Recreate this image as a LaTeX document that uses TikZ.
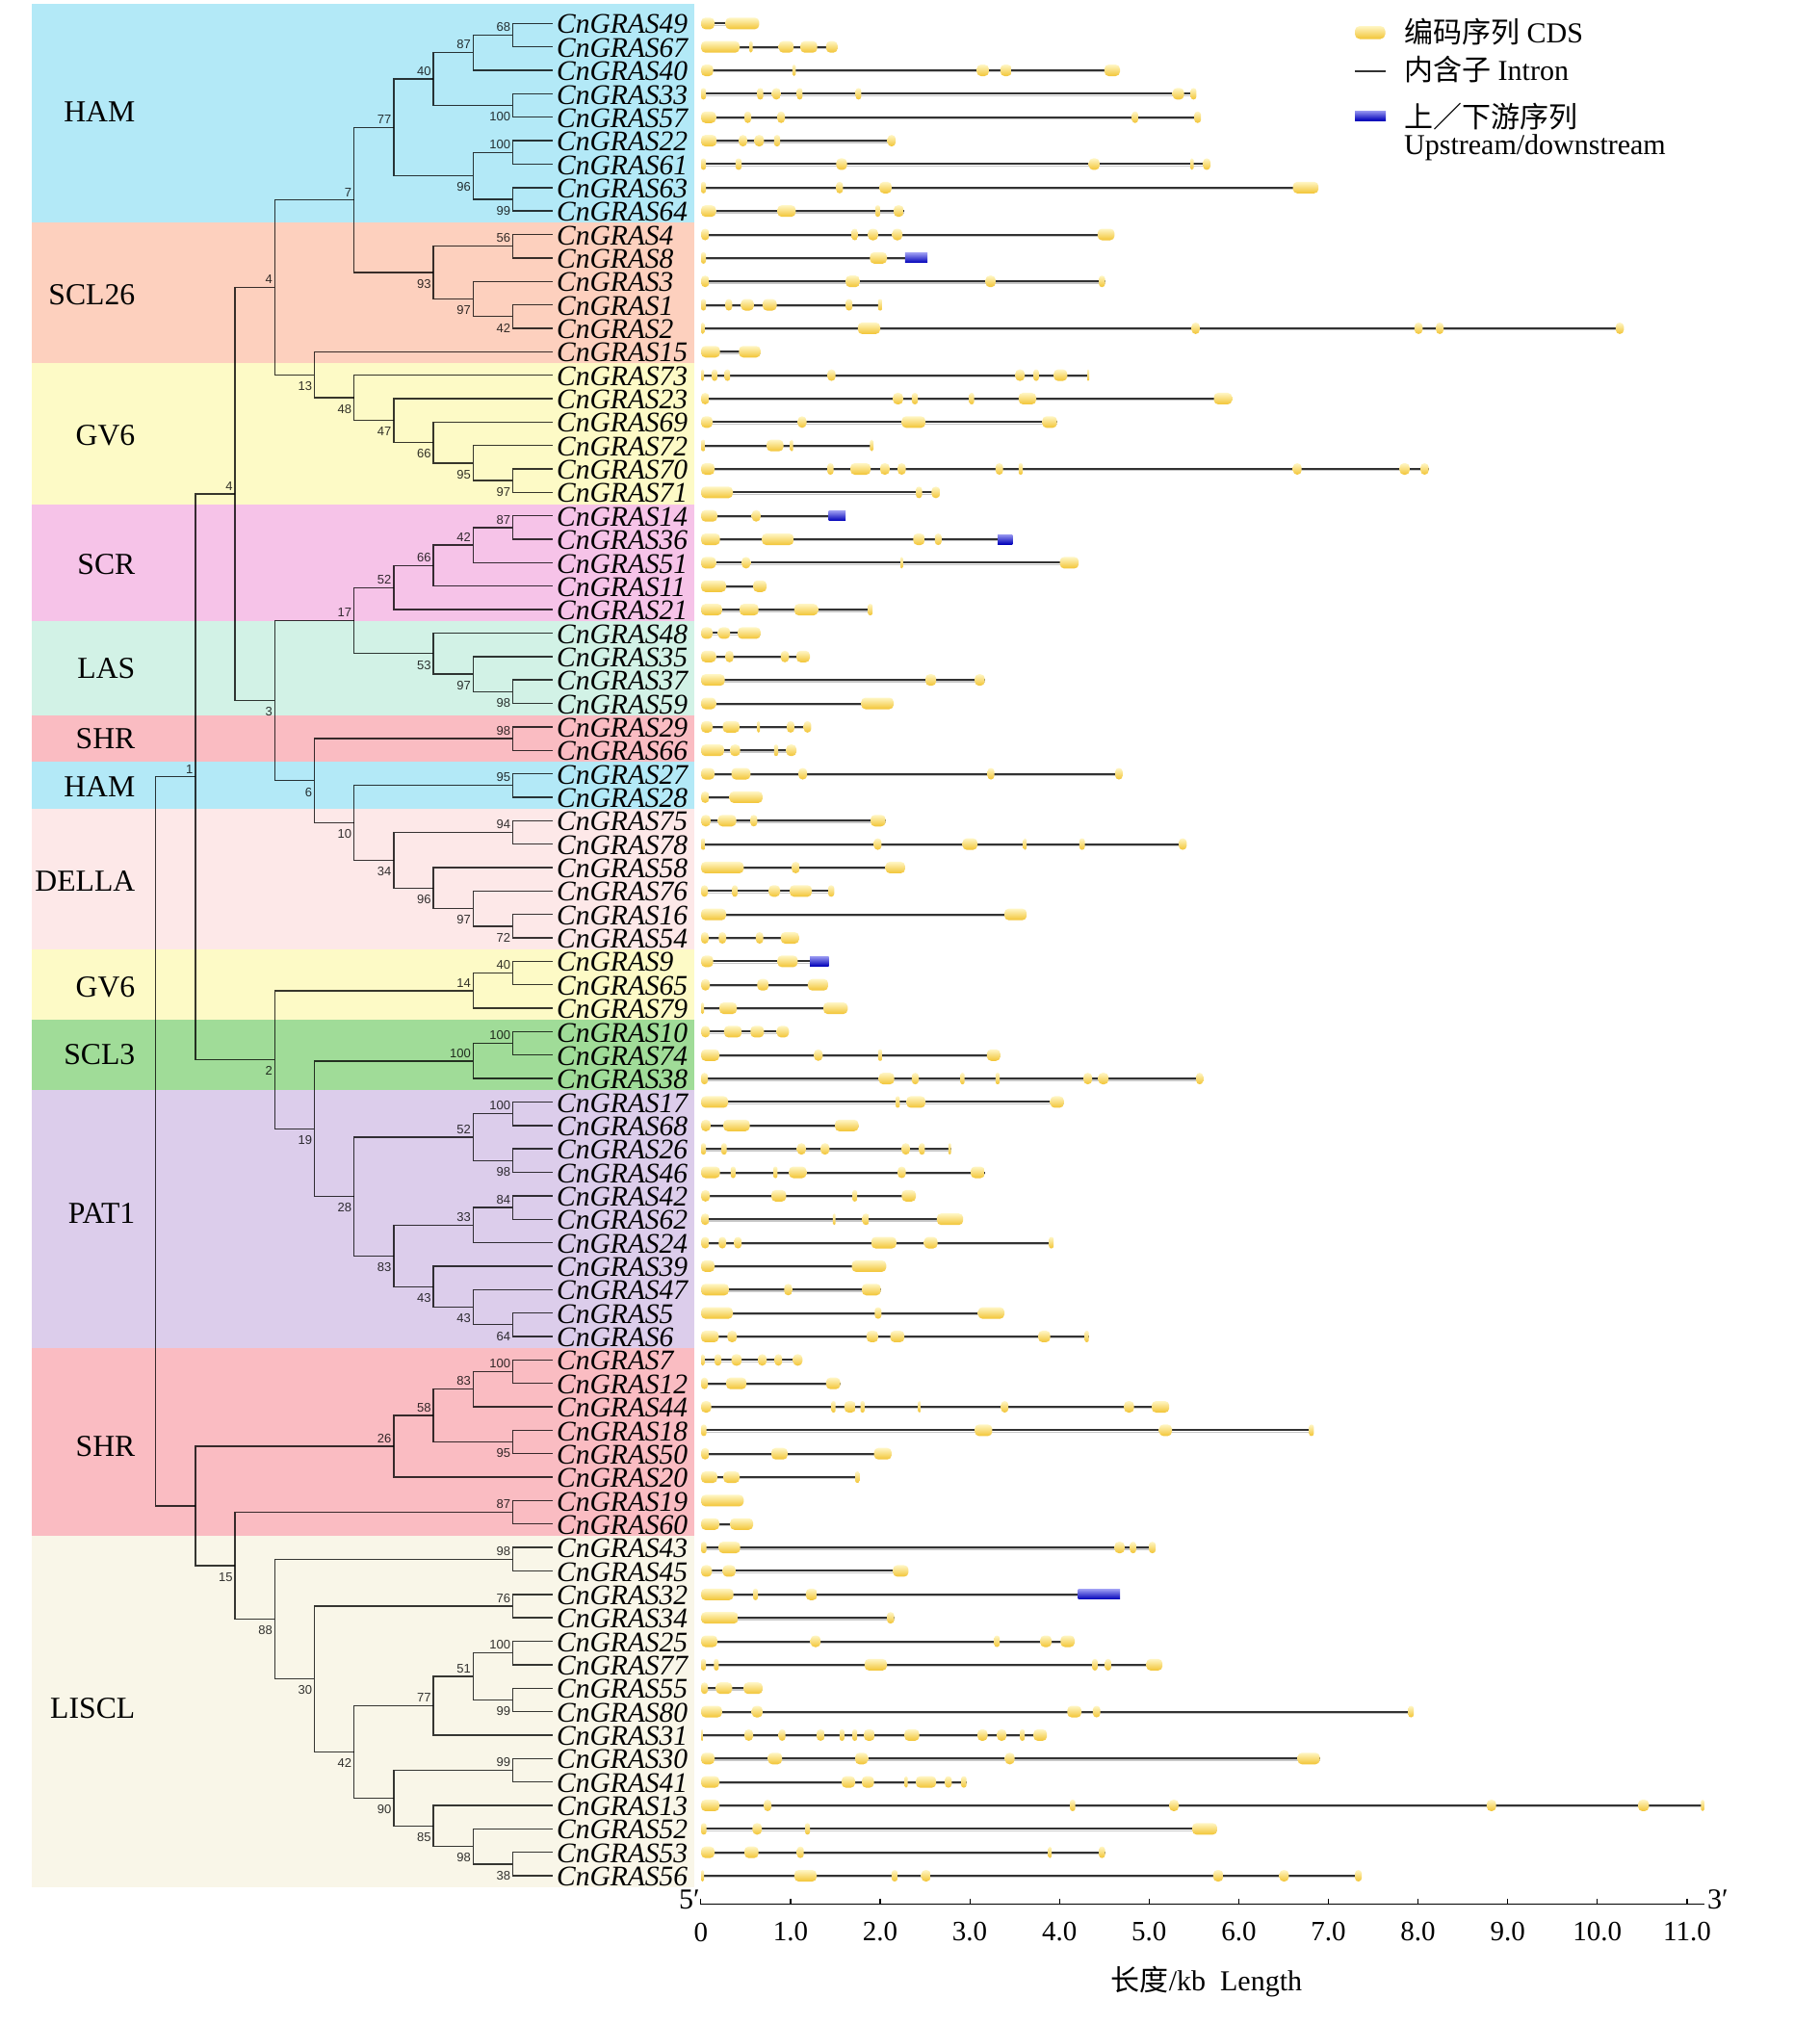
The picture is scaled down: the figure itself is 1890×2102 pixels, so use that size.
\documentclass[tikz,border=0pt]{standalone}
\usepackage{fontspec}
\setmainfont{Liberation Serif}
\newfontfamily\cjk{Noto Sans CJK SC}
\newfontfamily\bsfont{Liberation Sans}
\usetikzlibrary{calc}
\definecolor{cHAM}{RGB}{179,233,247}
\definecolor{cSCLa}{RGB}{253,208,190}
\definecolor{cGV}{RGB}{253,250,198}
\definecolor{cSCR}{RGB}{246,195,232}
\definecolor{cLAS}{RGB}{210,242,230}
\definecolor{cSHR}{RGB}{250,188,194}
\definecolor{cDELLA}{RGB}{253,232,232}
\definecolor{cSCLb}{RGB}{160,220,152}
\definecolor{cPAT}{RGB}{220,205,235}
\definecolor{cLISCL}{RGB}{249,246,232}
\definecolor{cdsT}{RGB}{255,246,196}
\definecolor{cdsB}{RGB}{242,196,52}
\definecolor{udT}{RGB}{150,150,240}
\definecolor{udB}{RGB}{0,0,185}
\definecolor{intr}{RGB}{50,50,50}
\tikzset{
  br/.style={draw=black, draw opacity=0.78, line width=1.4pt},
  bsl/.style={font=\bsfont\fontsize{13}{13}\selectfont, inner sep=0pt, text=black, text opacity=0.8},
  glabel/.style={font=\fontsize{29.5}{30}\selectfont\itshape, inner sep=0pt, anchor=west},
  grp/.style={font=\fontsize{31.7}{32}\selectfont, inner sep=0pt, anchor=east},
  intron/.style={draw=intr, line width=2pt},
  ishadow/.style={draw=black!22, line width=1.2pt},
  cds/.style={top color=cdsT, bottom color=cdsB},
  udb/.style={top color=udT, bottom color=udB},
  lg/.style={font=\fontsize{30}{30}\selectfont, inner sep=0pt, anchor=west},
  tk/.style={font=\fontsize{29}{29}\selectfont, inner sep=0pt},
  axl/.style={draw=black, line width=1.6pt}
}
\newcommand{\tcl}[4]{%
  \draw[br] (#2) -- (#2 -| #4) -- (#3 -| #4) -- (#3);
  \coordinate (#1) at ($(#2 -| #4)!0.5!(#3 -| #4)$);}
\newcommand{\lbu}[2]{\node[bsl, anchor=south east] (b#1) at ([shift={(-2.2,-3.5)}]#1) {#2};}
\newcommand{\lbd}[2]{\node[bsl, anchor=north east] (b#1) at ([shift={(-2.2,7)}]#1) {#2};}
\newcommand{\gstr}[3]{%
  \pgfmathsetmacro\gy{24.35*#1}%
  \draw[ishadow] (728,\gy+1.8) -- (#2,\gy+1.8);%
  \draw[intron] (728,\gy) -- (#2,\gy);%
  \foreach \a/\b in {#3}{%
    \pgfmathsetmacro\rr{min(4.5,(\b-\a)/2)}%
    \shade[cds, rounded corners=\rr pt] (\a,\gy-6) rectangle (\b,\gy+6);%
  }}
\newcommand{\udbox}[3]{%
  \pgfmathsetmacro\gy{24.35*#1}%
  \shade[udb] (#2,\gy-5) rectangle (#3,\gy+5);}
\begin{document}
\begin{tikzpicture}[x=1pt,y=-1pt]
\fill[white] (0,0) rectangle (1890,2102);
\useasboundingbox (0,0) rectangle (1890,2102);
% ---------- bands
\fill[cHAM]   (33,4)      rectangle (721,231.3);
\fill[cSCLa]  (33,231.3)  rectangle (721,377.4);
\fill[cGV]    (33,377.4)  rectangle (721,523.5);
\fill[cSCR]   (33,523.5)  rectangle (721,645.3);
\fill[cLAS]   (33,645.3)  rectangle (721,742.7);
\fill[cSHR]   (33,742.7)  rectangle (721,791.4);
\fill[cHAM]   (33,791.4)  rectangle (721,840.1);
\fill[cDELLA] (33,840.1)  rectangle (721,986.2);
\fill[cGV]    (33,986.2)  rectangle (721,1059.2);
\fill[cSCLb]  (33,1059.2) rectangle (721,1132.3);
\fill[cPAT]   (33,1132.3) rectangle (721,1400.1);
\fill[cSHR]   (33,1400.1) rectangle (721,1594.9);
\fill[cLISCL] (33,1594.9) rectangle (721,1960.2);
% ---------- group labels
\node[grp] (g1) at (140.5,115.7) {HAM};
\node[grp] (g2) at (140.5,306) {SCL26};
\node[grp] (g3) at (140.5,452.7) {GV6};
\node[grp] (g4) at (140.5,586) {SCR};
\node[grp] (g5) at (140.5,694) {LAS};
\node[grp] (g6) at (140.5,767.3) {SHR};
\node[grp] (g7) at (140.5,816.7) {HAM};
\node[grp] (g8) at (140.5,915) {DELLA};
\node[grp] (g9) at (140.5,1025) {GV6};
\node[grp] (g10) at (140.5,1095) {SCL3};
\node[grp] (g11) at (140.5,1260) {PAT1};
\node[grp] (g12) at (140.5,1501.7) {SHR};
\node[grp] (g13) at (140.5,1774) {LISCL};
% ---------- leaves
\foreach \d in {1,...,10} \coordinate (X\d) at ({573.6-41.2*\d},0);
\foreach \g [count=\i] in {49,67,40,33,57,22,61,63,64,4,8,3,1,2,15,73,23,69,72,70,71,14,36,51,11,21,48,35,37,59,29,66,27,28,75,78,58,76,16,54,9,65,79,10,74,38,17,68,26,46,42,62,24,39,47,5,6,7,12,44,18,50,20,19,60,43,45,32,34,25,77,55,80,31,30,41,13,52,53,56}{
  \coordinate (L\g) at (573.6,{24.35*\i});
  \node[glabel] (T\g) at (578,{24.35*\i+1}) {CnGRAS\g};
}
% ---------- tree
\tcl{A68}{L49}{L67}{X1} \lbu{A68}{68}
\tcl{A87}{A68}{L40}{X2} \lbu{A87}{87}
\tcl{A100a}{L33}{L57}{X1} \lbd{A100a}{100}
\tcl{A40}{A87}{A100a}{X3} \lbu{A40}{40}
\tcl{A100b}{L22}{L61}{X1} \lbu{A100b}{100}
\tcl{A99}{L63}{L64}{X1} \lbd{A99}{99}
\tcl{A96}{A100b}{A99}{X2} \lbd{A96}{96}
\tcl{A77}{A40}{A96}{X4} \lbu{A77}{77}
\tcl{A56}{L4}{L8}{X1} \lbu{A56}{56}
\tcl{A42}{L1}{L2}{X1} \lbd{A42}{42}
\tcl{A97}{L3}{A42}{X2} \lbd{A97}{97}
\tcl{A93}{A56}{A97}{X3} \lbd{A93}{93}
\tcl{A7}{A77}{A93}{X5} \lbu{A7}{7}
\tcl{A97b}{L70}{L71}{X1} \lbd{A97b}{97}
\tcl{A95}{L72}{A97b}{X2} \lbd{A95}{95}
\tcl{A66}{L69}{A95}{X3} \lbd{A66}{66}
\tcl{A47}{L23}{A66}{X4} \lbd{A47}{47}
\tcl{A48}{L73}{A47}{X5} \lbd{A48}{48}
\tcl{A13}{L15}{A48}{X6} \lbd{A13}{13}
\tcl{A4a}{A7}{A13}{X7} \lbu{A4a}{4}
\tcl{A87s}{L14}{L36}{X1} \lbu{A87s}{87}
\tcl{A42s}{A87s}{L51}{X2} \lbu{A42s}{42}
\tcl{A66s}{A42s}{L11}{X3} \lbu{A66s}{66}
\tcl{A52}{A66s}{L21}{X4} \lbu{A52}{52}
\tcl{A98}{L37}{L59}{X1} \lbd{A98}{98}
\tcl{A97c}{L35}{A98}{X2} \lbd{A97c}{97}
\tcl{A53}{L48}{A97c}{X3} \lbd{A53}{53}
\tcl{A17}{A52}{A53}{X5} \lbu{A17}{17}
\tcl{A98s}{L29}{L66}{X1} \lbu{A98s}{98}
\tcl{A95s}{L27}{L28}{X1} \lbu{A95s}{95}
\tcl{A94}{L75}{L78}{X1} \lbu{A94}{94}
\tcl{A72}{L16}{L54}{X1} \lbd{A72}{72}
\tcl{A97d}{L76}{A72}{X2} \lbd{A97d}{97}
\tcl{A96s}{L58}{A97d}{X3} \lbd{A96s}{96}
\tcl{A34}{A94}{A96s}{X4} \lbd{A34}{34}
\tcl{A10}{A95s}{A34}{X5} \lbd{A10}{10}
\tcl{A6}{A98s}{A10}{X6} \lbd{A6}{6}
\tcl{A3}{A17}{A6}{X7} \lbd{A3}{3}
\tcl{A4b}{A4a}{A3}{X8} \lbu{A4b}{4}
\tcl{A40s}{L9}{L65}{X1} \lbu{A40s}{40}
\tcl{A14}{A40s}{L79}{X2} \lbu{A14}{14}
\tcl{A100u}{L10}{L74}{X1} \lbu{A100u}{100}
\tcl{A100t}{A100u}{L38}{X2} \lbu{A100t}{100}
\tcl{A100v}{L17}{L68}{X1} \lbu{A100v}{100}
\tcl{A98p}{L26}{L46}{X1} \lbd{A98p}{98}
\tcl{A52p}{A100v}{A98p}{X2} \lbu{A52p}{52}
\tcl{A84}{L42}{L62}{X1} \lbu{A84}{84}
\tcl{A33}{A84}{L24}{X2} \lbu{A33}{33}
\tcl{A64}{L5}{L6}{X1} \lbd{A64}{64}
\tcl{A43b}{L47}{A64}{X2} \lbd{A43b}{43}
\tcl{A43a}{L39}{A43b}{X3} \lbd{A43a}{43}
\tcl{A83}{A33}{A43a}{X4} \lbd{A83}{83}
\tcl{A28}{A52p}{A83}{X5} \lbd{A28}{28}
\tcl{A19}{A100t}{A28}{X6} \lbd{A19}{19}
\tcl{A2}{A14}{A19}{X7} \lbd{A2}{2}
\tcl{N1}{A4b}{A2}{X9} \lbu{N1}{1}
\tcl{A100w}{L7}{L12}{X1} \lbu{A100w}{100}
\tcl{A83s}{A100w}{L44}{X2} \lbu{A83s}{83}
\tcl{A95t}{L18}{L50}{X1} \lbd{A95t}{95}
\tcl{A58}{A83s}{A95t}{X3} \lbu{A58}{58}
\tcl{A26}{A58}{L20}{X4} \lbu{A26}{26}
\tcl{A87t}{L19}{L60}{X1} \lbu{A87t}{87}
\tcl{A98t}{L43}{L45}{X1} \lbu{A98t}{98}
\tcl{A76}{L32}{L34}{X1} \lbu{A76}{76}
\tcl{A100x}{L25}{L77}{X1} \lbu{A100x}{100}
\tcl{A99t}{L55}{L80}{X1} \lbd{A99t}{99}
\tcl{A51}{A100x}{A99t}{X2} \lbu{A51}{51}
\tcl{A77t}{A51}{L31}{X3} \lbu{A77t}{77}
\tcl{A99u}{L30}{L41}{X1} \lbu{A99u}{99}
\tcl{A38}{L53}{L56}{X1} \lbd{A38}{38}
\tcl{A98u}{L52}{A38}{X2} \lbd{A98u}{98}
\tcl{A85}{L13}{A98u}{X3} \lbd{A85}{85}
\tcl{A90}{A99u}{A85}{X4} \lbd{A90}{90}
\tcl{A42t}{A77t}{A90}{X5} \lbd{A42t}{42}
\tcl{A30}{A76}{A42t}{X6} \lbd{A30}{30}
\tcl{A88}{A98t}{A30}{X7} \lbd{A88}{88}
\tcl{A15}{A87t}{A88}{X8} \lbd{A15}{15}
\tcl{Nb}{A26}{A15}{X9}
\tcl{R}{N1}{Nb}{X10}
% ---------- gene structures
\gstr{1}{788.4}{728/742,753.3/788.4}
\gstr{2}{869.8}{728/768,778/781.5,808.7/824.2,831.2/848.7,857.8/869.8}
\gstr{3}{1163}{728/740.7,822.8/826.3,1014.3/1026.9,1038.8/1050.7,1146.9/1163}
\gstr{4}{1242.3}{728/733,786.3/792.6,801.7/810.8,827.7/833.3,888.7/894.3,1217.7/1229.6,1236.6/1242.3}
\gstr{5}{1247.2}{728/743.5,773/780,807.3/815,1175.6/1181.9,1240.2/1247.2}
\gstr{6}{930.1}{728/744.2,767.3/775.8,783.5/793.3,803.8/810.1,921.7/930.1}
\gstr{7}{1257}{728/733,763.8/770.2,868.4/879.6,1130.7/1141.9,1236/1239.5,1249.3/1257}
\gstr{8}{1369.2}{728/733,868.4/875.4,913.3/925.9,1342.6/1369.2}
\gstr{9}{938.5}{728/743.5,807.3/826.3,909/914,928/938.5}
\gstr{10}{1157.4}{728/736.5,884.5/890.8,901.3/911.9,926.6/937.1,1139.8/1157.4}
\gstr{11}{939.9}{728/733,903.4/921} \udbox{11}{939.9}{963.1}
\gstr{12}{1147.5}{728/736.5,878.2/892.9,1023.4/1033.9,1141.2/1147.5}
\gstr{13}{916.1}{728/733,753.3/760.3,769.4/782.8,791.9/806.6,878.2/885.2,911.9/916.1}
\gstr{14}{1686.3}{728/731.6,890.8/914,1237.4/1245.8,1468.9/1477.3,1491.3/1499,1677.9/1686.3}
\gstr{15}{789.8}{728/747.7,767.3/789.8}
\gstr{16}{1131}{728/731,739.3/744.9,752.6/758.2,859.2/867.7,1054.3/1064.1,1073.2/1078.8,1094.2/1108.3,1129/1131}
\gstr{17}{1279.4}{728/736.5,927.3/937.8,946.9/953.2,1006.6/1011.5,1057.8/1076,1260.5/1279.4}
\gstr{18}{1097.7}{728/740,828.4/837.5,936.4/961,1082.3/1097.7}
\gstr{19}{907}{728/732.3,796.1/813.6,820.7/823.5,903.4/907}
\gstr{20}{1483.6}{728/742,859.2/865.6,883.1/904.1,914/923.8,932.2/940.6,1033.9/1041.6,1057.8/1062,1342.6/1351.7,1453.4/1463.9,1475.2/1483.6}
\gstr{21}{976.4}{728/761,951.1/957.5,967.3/976.4}
\gstr{22}{860.6}{728/744.9,780.7/789.8} \udbox{22}{860.6}{878.2}
\gstr{23}{1036}{728/747.7,791.2/824.2,948.3/960.3,970.8/977.8} \udbox{23}{1036}{1051.4}
\gstr{24}{1120.2}{728/743.5,770.2/779.3,935/937.5,1100.6/1120.2}
\gstr{25}{796.1}{728/754,782.1/796.1}
\gstr{26}{906.2}{728/749.8,768/787.7,824.9/849.4,901.3/906.2}
\gstr{27}{789.8}{728/740,745.6/758.2,766/789.8}
\gstr{28}{841}{728/743.5,753.3/761.7,810.8/819.3,827/841}
\gstr{29}{1022.7}{728/752.6,961/972.2,1012.2/1022.7}
\gstr{30}{928}{728/743.5,894.3/928}
\gstr{31}{842.4}{728/740,750.5/768,786.3/789.1,817.2/824.9,834.7/842.4}
\gstr{32}{827}{728/751.9,758.2/768.7,803.8/808,816.4/827}
\gstr{33}{1165.8}{728/742,759.6/779.3,829.1/838.2,1025.5/1032.5,1158.1/1165.8}
\gstr{34}{791.9}{728/736.5,757.5/791.9}
\gstr{35}{919.6}{728/737.9,745.6/764.5,779.3/786.3,904.1/919.6}
\gstr{36}{1232.4}{728/732.3,907.6/915.4,999.5/1015,1062.7/1066.2,1120.9/1126.5,1224/1232.4}
\gstr{37}{939.9}{728/772.3,822.1/830.5,919.6/939.9}
\gstr{38}{866.3}{728/735.1,760.3/765.9,798.2/810.1,820/843.1,860/866.3}
\gstr{39}{1066.2}{728/754,1043/1066.2}
\gstr{40}{829.8}{728/735.8,746.3/754,784.9/792.6,810.8/829.8}
\gstr{41}{841}{728/740.7,807.3/828.4} \udbox{41}{841}{860.6}
\gstr{42}{860}{728/737.2,786.3/798.2,838.9/860}
\gstr{43}{880.3}{728/731,747/765.2,855/880.3}
\gstr{44}{819.3}{728/737.2,751.9/770.2,779.3/793.3,806.6/819.3}
\gstr{45}{1038.8}{728/747,845.2/854.3,911.9/916.1,1024.8/1038.8}
\gstr{46}{1249.3}{728/735.1,912.6/928.7,946.9/954,997.4/1001.6,1033.9/1038.1,1125.1/1134.2,1140.5/1151.1,1242.3/1249.3}
\gstr{47}{1104.8}{728/756.1,930.1/934.3,941.3/961,1090.7/1104.8}
\gstr{48}{891.5}{728/737.9,751.2/778.6,867/891.5}
\gstr{49}{987.6}{728/733,749.1/754.7,827.7/836.8,852.2/861.3,936.4/944.8,954.6/960.3,984.8/987.6}
\gstr{50}{1022.7}{728/747.7,758.9/763.8,803.1/807.3,819.3/837.5,932.2/940.6,1008/1022.7}
\gstr{51}{951.1}{728/737.2,801/816.4,885.2/890.1,936.4/951.1}
\gstr{52}{1000.2}{728/736.5,864.9/867.7,895.7/902.7,972.9/1000.2}
\gstr{53}{1094.2}{728/736.5,746.3/754,762.4/770.2,904.8/930.8,959.6/973.6,1089.3/1094.2}
\gstr{54}{920.3}{728/742,884.5/920.3}
\gstr{55}{914.7}{728/756.8,814.3/822.8,895/914.7}
\gstr{56}{1043}{728/761,908.3/915.4,1015.7/1043}
\gstr{57}{1130.7}{728/746.3,755.4/765.2,899.9/911.9,924.5/939.2,1078.1/1090.7,1126.5/1130.7}
\gstr{58}{833.3}{728/731.6,742/749.1,759.6/770.2,787/796.1,804.5/812.2,823.5/833.3}
\gstr{59}{872.6}{728/735.1,754/775.1,857.8/872.6}
\gstr{60}{1214.2}{728/738.6,863.4/867.7,876.8/888.7,893.6/897.8,953.2/956.7,1039.5/1047.2,1167.2/1177.7,1196/1214.2}
\gstr{61}{1364.3}{728/733.7,1012.2/1030.4,1203.7/1217,1359.4/1364.3}
\gstr{62}{925.9}{728/736.5,801/817.9,907.6/925.9}
\gstr{63}{892.9}{728/744.9,751.2/768,888/892.9}
\gstr{64}{772.3}{728/772.3}
\gstr{65}{782.1}{728/747,758.2/782.1}
\gstr{66}{1200.2}{728/733.7,746.3/768.7,1157.4/1167.9,1173.5/1179.8,1193.1/1200.2}
\gstr{67}{943.4}{728/739.3,750.5/763.8,927.3/943.4}
\gstr{68}{1119.5}{728/761.7,782.1/787,836.8/848.7} \udbox{68}{1119.5}{1163}
\gstr{69}{928.7}{728/766.6,921/928.7}
\gstr{70}{1116}{728/744.9,841.7/852.2,1032.5/1038.1,1080.2/1092.1,1101.3/1116}
\gstr{71}{1207.2}{728/733,741.4/746.3,897.8/921,1134.2/1139.8,1147.5/1153.9,1190.3/1207.2}
\gstr{72}{791.9}{728/735.1,743.5/760.3,772.3/791.9}
\gstr{73}{1468.1}{728/749.8,780.7/791.9,1108.3/1123,1134.9/1142.6,1462.5/1468.1}
\gstr{74}{1087.2}{728/730.2,773/782.1,808.7/815.7,848/856.4,871.9/876.8,885.2/890.1,897.1/908.3,939.2/954.6,1015/1025.5,1035.3/1045.1,1059.2/1064.1,1073.2/1087.2}
\gstr{75}{1370.6}{728/742,797.5/812.2,888/901.3,1043.7/1053.6,1347.5/1370.6}
\gstr{76}{1003.7}{728/747,874/888,895/907.6,939.2/942.7,951.1/972.2,981.3/988.3,998.1/1003.7}
\gstr{77}{1769.8}{728/747,793.3/801,1111.1/1116.7,1214.2/1224,1543.9/1553.7,1701/1712.3,1766.3/1769.8}
\gstr{78}{1264}{728/733.7,781.4/791.2,836.1/841,1238/1264}
\gstr{79}{1147.5}{728/742,773/787.7,827.7/834.7,1088.6/1092.1,1141.2/1147.5}
\gstr{80}{1414.1}{728/731,824.9/848,925.9/932.2,956.7/966.6,1259.8/1270.3,1328.5/1338.4,1407.1/1414.1}
% ---------- axis
\coordinate (ax0) at (727.8,1977.5);
\coordinate (ax1) at (1769.8,1977.5);
\draw[axl] (ax0) -- (ax1);
\foreach \k in {0,...,11} \draw[axl, line width=1.2pt] ({727.8+93.1*\k},1977.5) -- ({727.8+93.1*\k},1971.5);
\foreach \k/\t in {0/0,1/1.0,2/2.0,3/3.0,4/4.0,5/5.0,6/6.0,7/7.0,8/8.0,9/9.0,10/10.0,11/11.0}
  \node[tk] (tk\k) at ({727.8+93.1*\k},2006.5) {\t};
\node[tk, font=\fontsize{30}{30}\selectfont] (p5) at (716,1973) {5′};
\node[tk, font=\fontsize{30}{30}\selectfont] (p3) at (1784,1973) {3′};
\node[tk, font=\fontsize{30}{30}\selectfont] (axt) at (1253,2058) {{\cjk 长度}/kb\ \ Length};
% ---------- legend
\shade[cds, rounded corners=5pt] (1407,27) rectangle (1438.5,40.5);
\node[lg] (lg1) at (1458,33.5) {{\cjk 编码序列} CDS};
\coordinate (li0) at (1407,74);
\coordinate (li1) at (1438.5,74);
\draw[draw=intr, line width=2pt] (li0) -- (li1);
\node[lg] (lg2) at (1458,72) {{\cjk 内含子} Intron};
\shade[udb] (1407,115) rectangle (1439,125);
\node[lg] (lg3) at (1458,121.5) {\cjk 上／下游序列};
\node[lg] (lg4) at (1458,153) {Upstream/downstream};
\end{tikzpicture}
\end{document}
